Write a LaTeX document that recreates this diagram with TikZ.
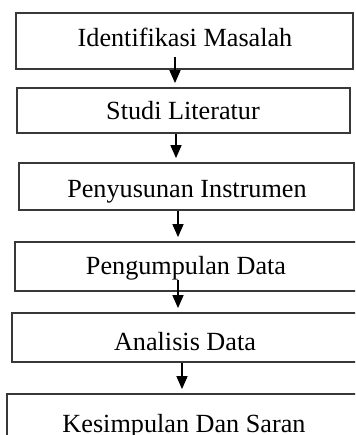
\documentclass[tikz,border=0pt]{standalone}
\usepackage{fontspec}
\setmainfont{Liberation Serif}
\usetikzlibrary{arrows.meta}
\tikzset{
  stepbox/.style={draw=black!78, line width=1.8pt, rectangle, inner sep=0pt},
  steptext/.style={anchor=base, inner sep=0pt, font=\fontsize{26.2}{30}\selectfont},
  arr/.style={draw=black, line width=1.6pt, shorten >=4pt,
    -{Triangle[length=13pt,width=11pt]}},
}
\begin{document}
\begin{tikzpicture}[x=1pt,y=-1pt]
  \useasboundingbox (0,0) rectangle (355,435);
  \clip (0,0) rectangle (355,435);
  \fill[white] (0,0) rectangle (355,435);

  % process boxes
  \node[stepbox, minimum width=337pt, minimum height=56pt] (b1) at (184.5,41) {};
  \node[stepbox, minimum width=333pt, minimum height=45pt] (b2) at (183.5,110.5) {};
  \node[stepbox, minimum width=335pt, minimum height=47pt] (b3) at (186.5,186.5) {};
  \node[stepbox, minimum width=345pt, minimum height=49pt] (b4) at (187.5,266.5) {};
  \node[stepbox, minimum width=350pt, minimum height=49pt] (b5) at (187,337.5) {};
  \node[stepbox, minimum width=355pt, minimum height=52pt] (b6) at (184.5,420) {};

  % labels
  \node[steptext] (t1) at (185,47) {Identifikasi Masalah};
  \node[steptext] (t2) at (183,120) {Studi Literatur};
  \node[steptext] (t3) at (187,197) {Penyusunan Instrumen};
  \node[steptext] (t4) at (186,274) {Pengumpulan Data};
  \node[steptext] (t5) at (185,350) {Analisis Data};
  \node[steptext] (t6) at (184,432) {Kesimpulan Dan Saran};

  % flow arrows
  \coordinate (s1) at (175,57);
  \coordinate (s2) at (176,0);
  \coordinate (s3) at (178,0);
  \coordinate (s4) at (178,280);
  \coordinate (s5) at (182,0);
  \draw[arr] (s1) -- (s1 |- b2.north);
  \draw[arr] (s2 |- b2.south) -- (s2 |- b3.north);
  \draw[arr] (s3 |- b3.south) -- (s3 |- b4.north);
  \draw[arr] (s4) -- (s4 |- b5.north);
  \draw[arr] (s5 |- b5.south) -- (s5 |- b6.north);
\end{tikzpicture}
\end{document}
